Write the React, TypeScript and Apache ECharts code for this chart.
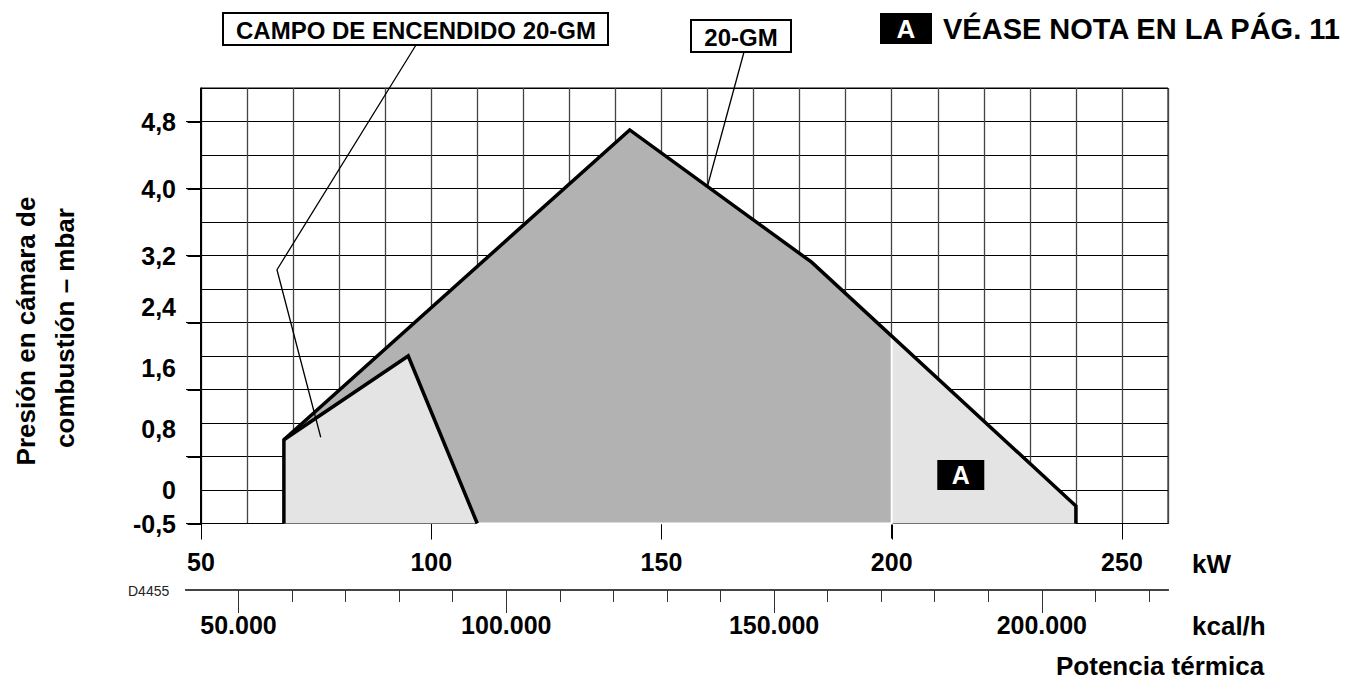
import React, { useEffect, useRef } from "react";
import * as echarts from "echarts";

// ---- axes ----
const KW_MIN = 50;
const KW_MAX = 260;
const KW_GRID_STEP = 10;
const KW_TICKS = [50, 100, 150, 200, 250];
const MBAR_MIN = 0;
const MBAR_MAX = 5.2;
const MBAR_GRID_STEP = 0.4;
const MBAR_TICKS = [0, 0.8, 1.6, 2.4, 3.2, 4.0, 4.8];
const KCAL_PER_KW = 859.845;
const KCAL_MAJOR = [50000, 100000, 150000, 200000];
const KCAL_MINOR = [60000, 70000, 80000, 90000, 110000, 120000, 130000, 140000, 160000, 170000, 180000, 190000, 210000, 220000];
// y tick labels (as printed on the original drawing) and where they sit
const Y_LABELS = ["4,8", "4,0", "3,2", "2,4", "1,6", "0,8", "0", "-0,5"];
const Y_LABEL_AT = [4.8, 4.0, 3.2, 2.58, 1.86, 1.13, 0.4, 0];

// ---- data (kW, mbar) ----
// working field 20-GM
const FIELD_KW = [68, 68, 143.1, 182.6, 240, 240];
const FIELD_MBAR = [0, 1.0, 4.7, 3.12, 0.21, 0];
// ignition field 20-GM
const IGN_KW = [68, 68, 95, 110];
const IGN_MBAR = [0, 1.0, 2.0, 0];
// darker part of the field (up to 200 kW, outside ignition field)
const CORE_KW = [68, 143.1, 182.6, 200, 200, 110, 95];
const CORE_MBAR = [1.0, 4.7, 3.12, 2.24, 0, 0, 2.0];
// note "A" marker
const NOTE_KW = [215];
const NOTE_MBAR = [0.58];
// leader line anchors inside the plot
const LEADER_IGN_KW = [66.5, 76];
const LEADER_IGN_MBAR = [3.03, 1.03];
const LEADER_FIELD_KW = [160];
const LEADER_FIELD_MBAR = [4.03];

const FONT = '"Liberation Sans", Arial, Helvetica, sans-serif';

const pairs = (xs: number[], ys: number[]) => xs.map((x, i) => [x, ys[i]]);

function polygonSeries(xs: number[], ys: number[], fill: string, stroke: string | null, z: number) {
  return {
    type: "custom",
    xAxisIndex: 0,
    yAxisIndex: 0,
    silent: true,
    z,
    data: pairs(xs, ys),
    renderItem: (params: any, api: any) => {
      if (params.dataIndex !== 0) return null;
      const pts = xs.map((x, i) => api.coord([x, ys[i]]));
      return {
        type: "polygon",
        shape: { points: pts },
        style: { fill, stroke: stroke || "none", lineWidth: stroke ? 2 : 0 },
      };
    },
  };
}

// outward tick marks on the plot's frame, placed through the axis scales
function tickSeries(values: number[], dir: "x" | "y", len: number) {
  return {
    type: "custom",
    xAxisIndex: 0,
    yAxisIndex: 0,
    silent: true,
    clip: false,
    z: 7,
    data: values.map((v) => (dir === "x" ? [v, MBAR_MIN] : [KW_MIN, v])),
    renderItem: (params: any, api: any) => {
      const p = api.coord([api.value(0), api.value(1)]);
      const x1 = Math.round(p[0]) + 0.5;
      const y1 = Math.round(p[1]) + 0.5;
      const shape = dir === "x"
        ? { x1, y1, x2: x1, y2: y1 + len }
        : { x1: x1 - len, y1, x2: x1, y2: y1 };
      return { type: "line", shape, style: { stroke: "#000", lineWidth: 1 } };
    },
  };
}

function txt(text: string, x: number, y: number, size: number, opts: any = {}) {
  const align = opts.align || "center";
  const va = opts.va || "middle";
  return {
    type: "text",
    x,
    y,
    z: 110,
    rotation: opts.rotation || 0,
    silent: true,
    style: {
      text,
      fill: opts.fill || "#000",
      fontSize: size,
      fontWeight: opts.weight || "bold",
      fontFamily: FONT,
      align,
      verticalAlign: va,
      textAlign: align,
      textVerticalAlign: va,
    },
  };
}

export default function App() {
  const ref = useRef<HTMLDivElement>(null);

  useEffect(() => {
    if (!ref.current) return;
    const chart = echarts.init(ref.current, undefined, { renderer: "svg" });
    const kcalAxisMin = KCAL_PER_KW * (KW_MIN - (15 * (KW_MAX - KW_MIN)) / 967);
    const kcalAxisMax = KCAL_PER_KW * KW_MAX;

    const labelFont = { fontFamily: FONT, fontWeight: "bold", fontSize: 25, color: "#000" };

    chart.setOption({
      animation: false,
      backgroundColor: "#fff",
      grid: [
        { left: 201, top: 88, width: 967, height: 435.5, show: true, borderColor: "#000", borderWidth: 1, backgroundColor: "transparent" },
        { left: 186, top: 589, width: 982, height: 1, show: false },
        { left: 201, top: 522.5, width: 967, height: 1, show: false },
        { left: 200, top: 88, width: 1, height: 435.5, show: false },
      ],
      xAxis: [
        {
          gridIndex: 0, type: "value", position: "bottom", min: KW_MIN, max: KW_MAX, interval: KW_GRID_STEP,
          axisLine: { show: true, onZero: false, lineStyle: { color: "#000", width: 1 } },
          axisTick: { show: false }, axisLabel: { show: false },
          splitLine: { show: true, lineStyle: { color: "#444", width: 1.3 } },
        },
        {
          gridIndex: 1, type: "value", min: kcalAxisMin, max: kcalAxisMax, position: "bottom",
          axisLine: { show: true, onZero: false, lineStyle: { color: "#444", width: 2 } },
          axisTick: { show: true, length: 12, customValues: KCAL_MINOR, lineStyle: { color: "#333", width: 1 } },
          axisLabel: { show: false },
          splitLine: { show: false },
        },
        {
          gridIndex: 1, type: "value", min: kcalAxisMin, max: kcalAxisMax, position: "bottom", offset: 0,
          axisLine: { show: true, onZero: false, lineStyle: { color: "#444", width: 2 } },
          axisTick: { show: true, length: 23, customValues: KCAL_MAJOR, lineStyle: { color: "#333", width: 1 } },
          axisLabel: {
            show: true, margin: 22, customValues: KCAL_MAJOR, ...labelFont,
            formatter: (v: number) => `${Math.round(v / 1000)}.000`,
          },
          splitLine: { show: false },
        },
        {
          gridIndex: 2, type: "value", position: "bottom", min: KW_MIN, max: KW_MAX,
          axisLine: { show: true, onZero: false, lineStyle: { color: "#000", width: 1 } },
          axisTick: { show: true, inside: false, length: 15, customValues: KW_TICKS, lineStyle: { color: "#000", width: 1 } },
          axisLabel: { show: true, margin: 26, customValues: KW_TICKS, ...labelFont },
          splitLine: { show: false },
        },
        { gridIndex: 3, type: "value", show: false, min: 0, max: 1 },
      ],
      yAxis: [
        {
          gridIndex: 0, type: "value", position: "left", min: MBAR_MIN, max: MBAR_MAX, interval: MBAR_GRID_STEP,
          axisLine: { show: true, onZero: false, lineStyle: { color: "#000", width: 1 } },
          axisTick: { show: false }, axisLabel: { show: false },
          splitLine: { show: true, lineStyle: { color: "#000", width: 1 } },
        },
        { gridIndex: 1, type: "value", show: false, min: 0, max: 1 },
        { gridIndex: 2, type: "value", show: false, min: 0, max: 1 },
        {
          gridIndex: 3, type: "value", position: "left", min: MBAR_MIN, max: MBAR_MAX,
          axisLine: { show: true, onZero: false, lineStyle: { color: "#000", width: 1 } },
          axisTick: { show: true, inside: false, length: 14, customValues: MBAR_TICKS, lineStyle: { color: "#000", width: 1 } },
          axisLabel: {
            show: true, margin: 24, customValues: Y_LABEL_AT, ...labelFont,
            formatter: (v: number) => {
              const i = Y_LABEL_AT.findIndex((a) => Math.abs(a - v) < 1e-6);
              return i >= 0 ? Y_LABELS[i] : "";
            },
          },
          splitLine: { show: false },
        },
      ],
      series: [
        polygonSeries(FIELD_KW, FIELD_MBAR, "#e4e4e4", null, 1),
        polygonSeries(CORE_KW, CORE_MBAR, "#b2b2b2", "#ffffff", 2),
        {
          type: "line", xAxisIndex: 0, yAxisIndex: 0, z: 5, silent: true,
          data: pairs(FIELD_KW, FIELD_MBAR), symbol: "none",
          lineStyle: { color: "#000", width: 3.5, join: "miter" },
        },
        {
          type: "line", xAxisIndex: 0, yAxisIndex: 0, z: 5, silent: true,
          data: pairs(IGN_KW, IGN_MBAR).slice(1), symbol: "none",
          lineStyle: { color: "#000", width: 3.5, join: "miter" },
        },
        {
          type: "scatter", xAxisIndex: 0, yAxisIndex: 0, z: 6, silent: true,
          data: pairs(NOTE_KW, NOTE_MBAR), symbol: "rect", symbolSize: [47, 30],
          itemStyle: { color: "#000", opacity: 1 },
          label: { show: true, position: "inside", formatter: "A", color: "#fff", fontFamily: FONT, fontWeight: "bold", fontSize: 25 },
        },
        tickSeries(KW_TICKS, "x", 15),
        tickSeries(MBAR_TICKS, "y", 14),
      ],
    });

    const px = (x: number, y: number) => chart.convertToPixel({ gridIndex: 0 }, [x, y]) as number[];
    const ign = LEADER_IGN_KW.map((x, i) => px(x, LEADER_IGN_MBAR[i]));
    const fld = LEADER_FIELD_KW.map((x, i) => px(x, LEADER_FIELD_MBAR[i]));

    chart.setOption({
      graphic: [
        { type: "polyline", z: 100, silent: true, shape: { points: [[416, 45], ...ign] }, style: { stroke: "#000", lineWidth: 1.3, fill: null } },
        { type: "polyline", z: 100, silent: true, shape: { points: [[744, 52], ...fld] }, style: { stroke: "#000", lineWidth: 1.3, fill: null } },
        { type: "rect", z: 100, silent: true, shape: { x: 223, y: 13, width: 385, height: 32 }, style: { fill: "#fff", stroke: "#000", lineWidth: 2 } },
        txt("CAMPO DE ENCENDIDO 20-GM", 416, 30, 24),
        { type: "rect", z: 100, silent: true, shape: { x: 691, y: 20, width: 100, height: 32 }, style: { fill: "#fff", stroke: "#000", lineWidth: 2 } },
        txt("20-GM", 741, 37, 24),
        { type: "rect", z: 100, silent: true, shape: { x: 880, y: 13, width: 52, height: 31 }, style: { fill: "#000" } },
        txt("A", 906, 29, 26, { fill: "#fff" }),
        txt("VÉASE NOTA EN LA PÁG. 11", 943, 29, 29, { align: "left" }),
        txt("kW", 1192, 564, 26, { align: "left" }),
        txt("kcal/h", 1192, 626, 26, { align: "left" }),
        txt("Potencia térmica", 1056, 666, 26, { align: "left" }),
        txt("D4455", 128, 591, 14, { align: "left", weight: "normal", fill: "#222" }),
        txt("Presión en cámara de", 26, 331, 26, { rotation: Math.PI / 2 }),
        txt("combustión – mbar", 65, 328, 26, { rotation: Math.PI / 2 }),
      ],
    });

    return () => chart.dispose();
  }, []);

  return <div ref={ref} style={{ position: "absolute", left: 0, top: 0, width: 1356, height: 680 }} />;
}
